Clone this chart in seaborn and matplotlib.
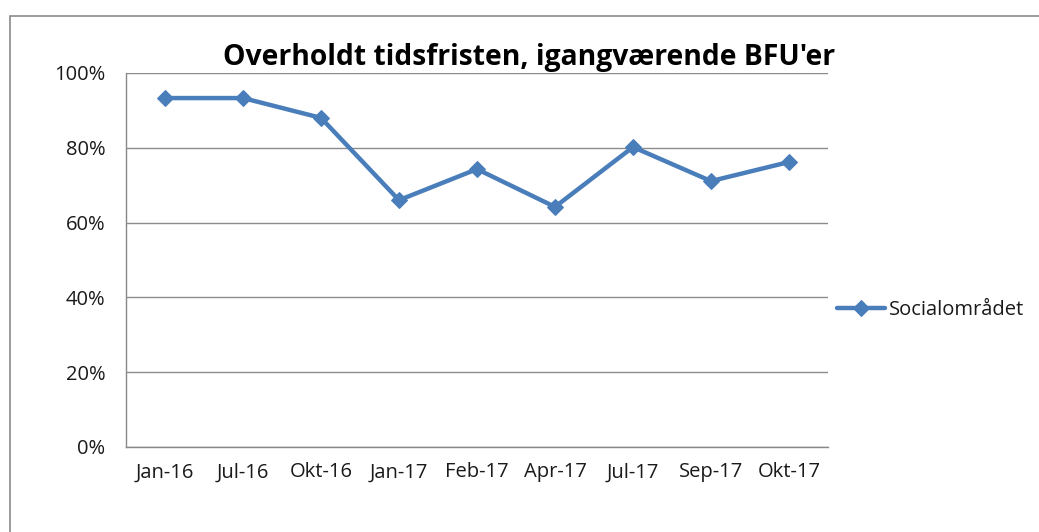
import matplotlib
matplotlib.use('Agg')
import matplotlib.pyplot as plt
import matplotlib.patches as mpatches
import matplotlib.ticker as mtick
import pandas as pd
import seaborn as sns

# dados
maaneder = ['Jan-16', 'Jul-16', 'Okt-16', 'Jan-17', 'Feb-17', 'Apr-17', 'Jul-17', 'Sep-17', 'Okt-17']
socialomraadet = [93.3, 93.3, 88.0, 66.0, 74.3, 64.2, 80.2, 71.1, 76.2]
y_ticks = [0, 20, 40, 60, 80, 100]

df = pd.DataFrame({'maaned': maaneder, 'pct': socialomraadet})
df['pos'] = range(len(df))

sns.set_style('white')
plt.rcParams['font.family'] = ['Open Sans', 'DejaVu Sans']

fig = plt.figure(figsize=(10.39, 5.32), dpi=100)
ax = fig.add_axes([126/1039, 1-447/532, (828-126)/1039, (447-73)/532])

blaa = '#4a7ebb'
sns.lineplot(data=df, x='pos', y='pct', ax=ax, color=blaa, linewidth=3.2,
             marker='D', markersize=8.5, markeredgecolor=blaa, label='Socialområdet')

ax.set_xlim(-0.5, len(maaneder) - 0.5)
ax.set_ylim(0, 100)
ax.set_yticks(y_ticks)
ax.yaxis.set_major_formatter(mtick.FuncFormatter(lambda v, p: f'{v:.0f}%'))
ax.set_xticks(df['pos'])
ax.set_xticklabels(maaneder)
ax.set_xticks([i - 0.5 for i in range(len(maaneder) + 1)], minor=True)
ax.tick_params(axis='x', which='major', length=0, pad=11, labelsize=14.5, labelcolor='#1a1a1a')
ax.tick_params(axis='x', which='minor', length=5, direction='out', color='#888888', width=1)
ax.tick_params(axis='y', length=5, direction='out', color='#888888', width=1,
               labelsize=14.5, labelcolor='#1a1a1a', pad=10)
ax.set_xlabel('')
ax.set_ylabel('')
ax.grid(axis='y', color='#8c8c8c', linewidth=1)
ax.set_axisbelow(True)
for s in ['top', 'right']:
    ax.spines[s].set_visible(False)
for s in ['left', 'bottom']:
    ax.spines[s].set_color('#888888')
    ax.spines[s].set_linewidth(1)

leg = ax.legend(loc='center left', bbox_to_anchor=(0.995, 0.367), frameon=False,
                fontsize=14.5, handlelength=2.4, handletextpad=0.2, borderaxespad=0.2)
for t in leg.get_texts():
    t.set_color('#1a1a1a')

fig.text(529/1039, 1-58/532, "Overholdt tidsfristen, igangværende BFU'er",
         ha='center', va='center', fontsize=20.3, fontweight='bold', color='black')

# moldura do gráfico (estilo Excel)
fig.patches.append(mpatches.Rectangle((10/1039, -0.05), 1.1, 1-16/532+0.05,
                                      transform=fig.transFigure, fill=False,
                                      edgecolor='#8a8a8a', linewidth=1.2))

fig.savefig('out.png', dpi=100)
